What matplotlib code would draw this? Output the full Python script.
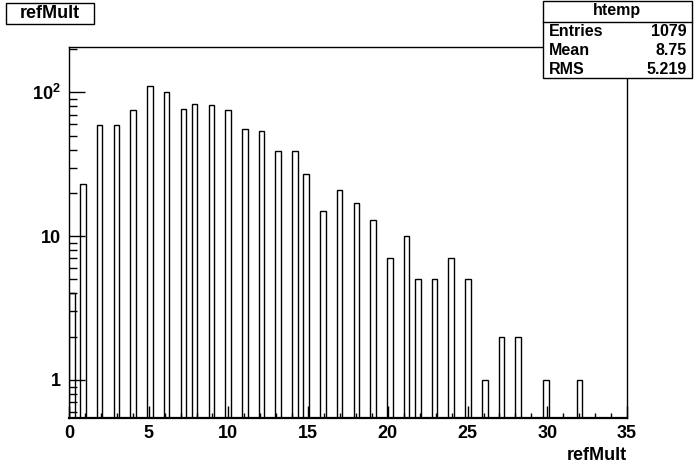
import matplotlib
matplotlib.use('Agg')
import matplotlib.pyplot as plt
from matplotlib.patches import Rectangle
from matplotlib.ticker import LogLocator, NullFormatter, MultipleLocator

plt.rcParams['font.family'] = ['Liberation Sans', 'DejaVu Sans']
plt.rcParams['font.weight'] = 'bold'
plt.rcParams['mathtext.fontset'] = 'custom'
plt.rcParams['mathtext.rm'] = 'Liberation Sans:bold'
plt.rcParams['mathtext.default'] = 'rm'

# refMult value -> counts
refmult = [0, 1, 2, 3, 4, 5, 6, 7, 8, 9, 10, 11, 12, 13, 14, 15, 16, 17, 18, 19,
           20, 21, 22, 23, 24, 25, 26, 27, 28, 30, 32]
counts = [4, 23, 59, 59, 75, 110, 100, 77, 83, 82, 75, 56, 54, 39, 39, 27, 15, 21, 17, 13,
          7, 10, 5, 5, 7, 5, 1, 2, 2, 1, 1]
nbins = 100
xmin, xmax = 0, 35
stats_names = ['Entries', 'Mean', 'RMS']
stats_vals = ['1079', '8.75', '5.219']

bw = (xmax - xmin) / nbins
left = [(k * nbins // (xmax - xmin)) * bw for k in refmult]
base = 0.3  # below the visible y range, so the bars run off the bottom
heights = [c - base for c in counts]

fig = plt.figure(figsize=(6.96, 4.72), dpi=100)
ax = fig.add_axes([69/696, 54/472, 558/696, 371/472])

ax.bar(left, heights, width=bw, bottom=base, align='edge', fill=False,
       edgecolor='black', linewidth=1.0)
ax.set_yscale('log')
ax.set_xlim(xmin, xmax)
ax.set_ylim(0.544, 207)

ax.set_xticks([0, 5, 10, 15, 20, 25, 30, 35])
ax.xaxis.set_minor_locator(MultipleLocator(1))
ax.set_yticks([1, 10, 100])
ax.set_yticklabels(['1', '10', '10$^{2}$'])
ax.yaxis.set_minor_locator(LogLocator(base=10, subs=range(2, 10)))
ax.yaxis.set_minor_formatter(NullFormatter())

ax.tick_params(axis='both', which='both', direction='in', width=1.0)
ax.tick_params(axis='x', which='major', length=8.5, labelsize=13, pad=5)
ax.tick_params(axis='x', which='minor', length=3.6)
ax.tick_params(axis='y', which='major', length=11.5, labelsize=13, pad=6)
ax.tick_params(axis='y', which='minor', length=5.8)
ax.tick_params(top=False, right=False, which='both')
for lab in ax.get_xticklabels() + ax.get_yticklabels():
    lab.set_fontweight('bold')

for s in ax.spines.values():
    s.set_linewidth(1.0)
ax.spines['bottom'].set_linewidth(1.6)

ax.set_xlabel('refMult', fontsize=13, fontweight='bold', loc='right', labelpad=4)

# title box
fig.patches.append(Rectangle((6/696, 1 - 24/472), 88/696, 21/472, transform=fig.transFigure,
                             facecolor='white', edgecolor='black', linewidth=1.0))
fig.text(50/696, 1 - 13.5/472, 'refMult', ha='center', va='center', fontsize=13, fontweight='bold')

# stats box
fig.patches.append(Rectangle((543/696, 1 - 78/472), 149/696, 77.5/472, transform=fig.transFigure,
                             facecolor='white', edgecolor='black', linewidth=1.0, zorder=5))
fig.lines.append(plt.Line2D([543/696, 692/696], [1 - 22/472, 1 - 22/472], transform=fig.transFigure,
                            color='black', linewidth=1.0, zorder=6))
fig.text(617/696, 1 - 11/472, 'htemp', ha='center', va='center', fontsize=11.5, fontweight='bold', zorder=7)
for i, (n, v) in enumerate(zip(stats_names, stats_vals)):
    y = 1 - (32 + 18.5 * i) / 472
    fig.text(549/696, y, n, ha='left', va='center', fontsize=11.5, fontweight='bold', zorder=7)
    fig.text(687/696, y, v, ha='right', va='center', fontsize=11.5, fontweight='bold', zorder=7)

fig.savefig('out.png', dpi=100)
